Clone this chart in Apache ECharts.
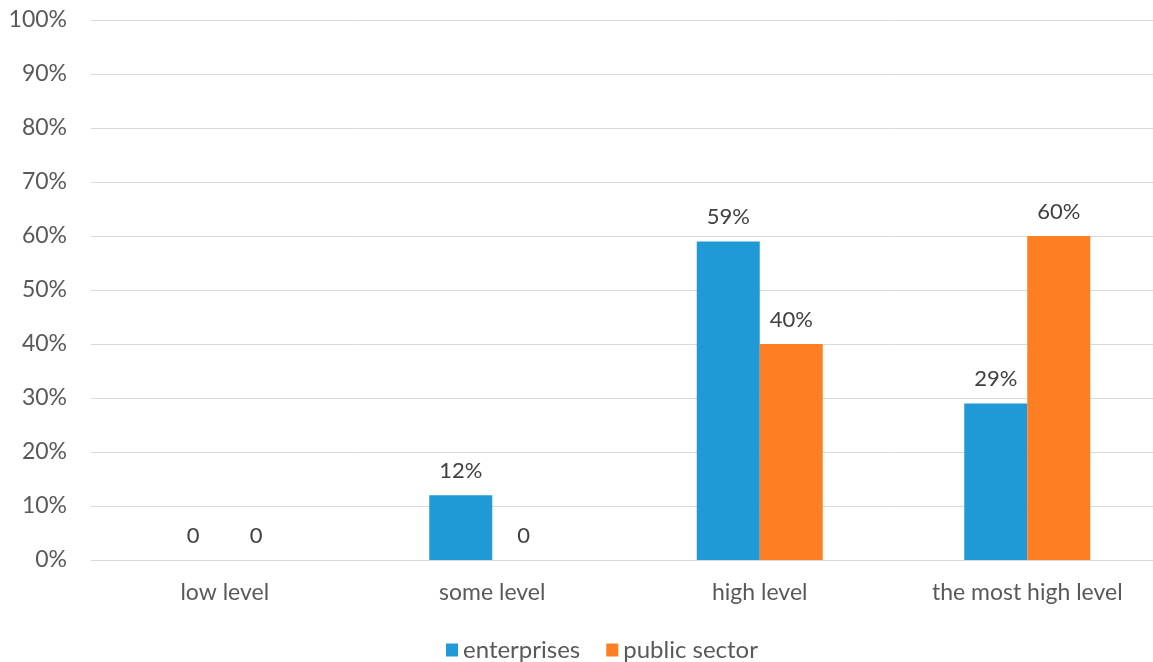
<!DOCTYPE html>
<html>
<head>
<meta charset="utf-8">
<script src="https://cdn.jsdelivr.net/npm/echarts@6/dist/echarts.min.js"></script>
<style>
html,body{margin:0;padding:0;background:#fff;overflow:hidden;width:1153px;height:662px;}
#chart{width:1170px;height:662px;}
</style>
</head>
<body>
<div id="chart"></div>
<script>
const categories = ['low level', 'some level', 'high level', 'the most high level'];
const enterprises = [0, 12, 59, 29];
const publicSector = [0, 0, 40, 60];
const seriesNames = ['enterprises', 'public sector'];

const FONT = 'Lato, "Open Sans", sans-serif';
const TEXT = '#595959';

const labelOpt = {
  show: true,
  position: 'top',
  distance: 13,
  color: '#404040',
  fontFamily: FONT,
  fontSize: 22,
  formatter: p => p.value === 0 ? '0' : p.value + '%'
};

// plot area runs a little past the right edge of the visible page
const chart = echarts.init(document.getElementById('chart'));
chart.setOption({
  backgroundColor: '#ffffff',
  animation: false,
  grid: { left: 91, top: 20, width: 1070, height: 540, containLabel: false },
  legend: {
    top: 633,
    left: 441,
    itemWidth: 12,
    itemHeight: 13,
    itemGap: 26,
    icon: 'rect',
    textStyle: { color: TEXT, fontFamily: FONT, fontSize: 24 },
    data: seriesNames
  },
  xAxis: {
    type: 'category',
    data: categories,
    axisTick: { show: false },
    axisLine: { lineStyle: { color: '#d9d9d9', width: 1 } },
    axisLabel: { color: TEXT, fontFamily: FONT, fontSize: 23, margin: 21 }
  },
  yAxis: {
    type: 'value',
    min: 0,
    max: 100,
    interval: 10,
    axisLine: { show: false },
    axisTick: { show: false },
    splitLine: { lineStyle: { color: '#d9d9d9', width: 1 } },
    axisLabel: { color: TEXT, fontFamily: FONT, fontSize: 23, margin: 24, formatter: '{value}%' }
  },
  series: [
    {
      name: seriesNames[0],
      type: 'bar',
      data: enterprises,
      barWidth: 63,
      barGap: '0%',
      itemStyle: { color: '#1f9ad6' },
      label: labelOpt
    },
    {
      name: seriesNames[1],
      type: 'bar',
      data: publicSector,
      barWidth: 63,
      barGap: '0%',
      itemStyle: { color: '#fd7e23' },
      label: labelOpt
    }
  ]
});
</script>
</body>
</html>
